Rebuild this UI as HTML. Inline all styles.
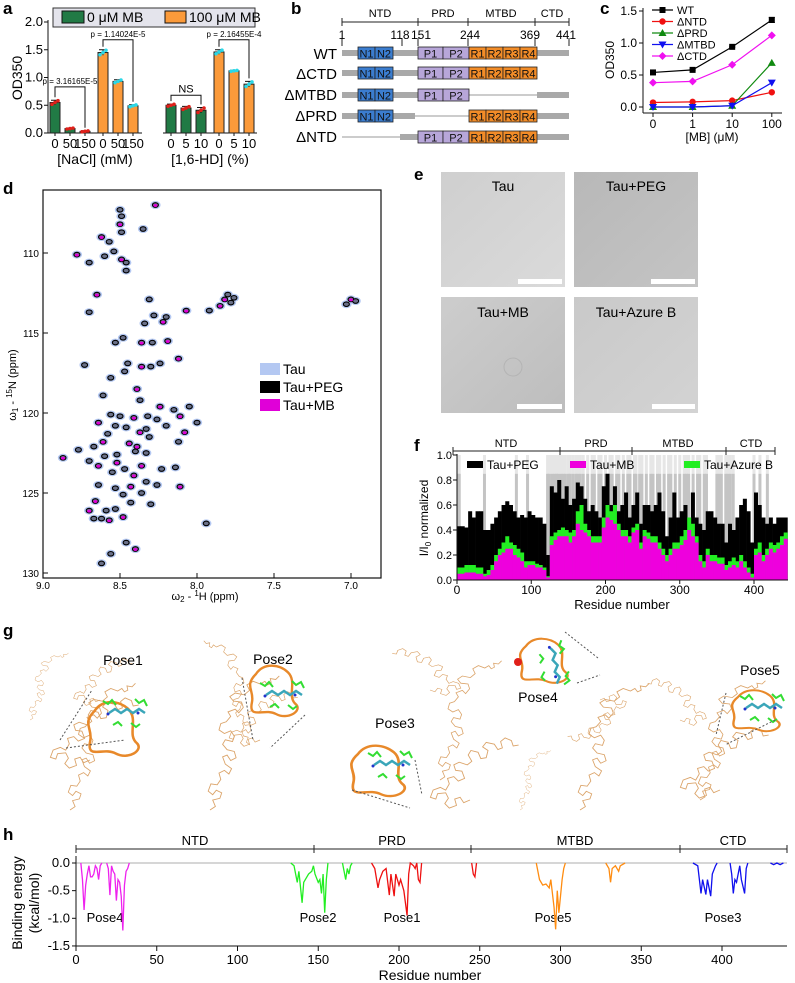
<!DOCTYPE html>
<html><head><meta charset="utf-8"><style>
html,body{margin:0;padding:0;background:#fff;}
svg{display:block;font-family:"Liberation Sans",Arial,sans-serif;}
</style></head><body>
<svg id="fig" width="795" height="983" viewBox="0 0 795 983" xmlns="http://www.w3.org/2000/svg">
<g font-weight="bold" font-size="17">
<text x="3" y="14">a</text>
<text x="291" y="14">b</text>
<text x="600" y="14">c</text>
<text x="3" y="194">d</text>
<text x="414" y="180">e</text>
<text x="414" y="451">f</text>
<text x="3" y="636">g</text>
<text x="3" y="840">h</text>
</g>

<g id="pa">
<rect x="53" y="8" width="202" height="19" fill="#e4e4ec" stroke="#333" stroke-width="1"/>
<rect x="62" y="11" width="22" height="12" fill="#217a45" stroke="#111"/>
<text x="87" y="22" font-size="14">0 μM MB</text>
<rect x="165" y="11" width="21" height="12" fill="#fb9a3a" stroke="#111"/>
<text x="189" y="22" font-size="14">100 μM MB</text>
<text transform="translate(22,78) rotate(-90)" text-anchor="middle" font-size="14">OD350</text>
<text x="95" y="164" text-anchor="middle" font-size="14">[NaCl] (mM)</text>
<text x="210" y="164" text-anchor="middle" font-size="14">[1,6-HD] (%)</text>
</g>

<g id="pb" font-size="11">
<g stroke="#222" stroke-width="1">
<line x1="342" y1="22" x2="569" y2="22"/>
<line x1="342" y1="18" x2="342" y2="26"/><line x1="418" y1="18" x2="418" y2="26"/><line x1="468" y1="18" x2="468" y2="26"/><line x1="535" y1="18" x2="535" y2="26"/><line x1="569" y1="18" x2="569" y2="26"/>
<line x1="342" y1="38" x2="342" y2="46"/><line x1="402" y1="38" x2="402" y2="46"/><line x1="418" y1="38" x2="418" y2="46"/><line x1="468" y1="38" x2="468" y2="46"/><line x1="535" y1="38" x2="535" y2="46"/><line x1="569" y1="38" x2="569" y2="46"/>
</g>
<text x="380" y="17" text-anchor="middle">NTD</text>
<text x="443" y="17" text-anchor="middle">PRD</text>
<text x="501" y="17" text-anchor="middle">MTBD</text>
<text x="552" y="17" text-anchor="middle">CTD</text>
<g font-size="12" text-anchor="middle">
<text x="342" y="39">1</text><text x="400" y="39">118</text><text x="421" y="39">151</text><text x="470" y="39">244</text><text x="530" y="39">369</text><text x="566" y="39">441</text>
</g>
<g font-size="15" text-anchor="end">
<text x="337" y="59">WT</text>
<text x="337" y="79">ΔCTD</text>
<text x="337" y="100">ΔMTBD</text>
<text x="337" y="121">ΔPRD</text>
<text x="337" y="142">ΔNTD</text>
</g>
<g id="bRows"></g>
</g>

<g id="pc">
<text transform="translate(614,60) rotate(-90)" text-anchor="middle" font-size="12">OD350</text>
<text x="712" y="141" text-anchor="middle" font-size="12">[MB] (μM)</text>
</g>

<g id="pd">
<rect x="43" y="190" width="338" height="388" fill="#fff" stroke="#111" stroke-width="1.2"/>
<text transform="translate(16,385) rotate(-90)" text-anchor="middle" font-size="11">ω<tspan font-size="8" dy="2">1</tspan><tspan dy="-2"> - </tspan><tspan font-size="8" dy="-4">15</tspan><tspan dy="4">N (ppm)</tspan></text>
<text x="205" y="600" text-anchor="middle" font-size="11">ω<tspan font-size="8" dy="2">2</tspan><tspan dy="-2"> - </tspan><tspan font-size="8" dy="-4">1</tspan><tspan dy="4">H (ppm)</tspan></text>
<rect x="260" y="363" width="20" height="12" fill="#b4c8f2"/>
<text x="283" y="374" font-size="14">Tau</text>
<rect x="260" y="381" width="20" height="12" fill="#000"/>
<text x="283" y="392" font-size="14">Tau+PEG</text>
<rect x="260" y="399" width="20" height="12" fill="#e000d8"/>
<text x="283" y="410" font-size="14">Tau+MB</text>
</g>

<defs>
<linearGradient id="g1" x1="0" y1="0" x2="1" y2="1"><stop offset="0" stop-color="#cfcfcf"/><stop offset="1" stop-color="#dadada"/></linearGradient>
<linearGradient id="g2" x1="0" y1="0" x2="1" y2="1"><stop offset="0" stop-color="#b8b8b8"/><stop offset="1" stop-color="#c4c4c4"/></linearGradient>
<linearGradient id="g3" x1="0" y1="0" x2="1" y2="1"><stop offset="0" stop-color="#cdcdcd"/><stop offset="1" stop-color="#bdbdbd"/></linearGradient>
<linearGradient id="g4" x1="0" y1="0" x2="1" y2="1"><stop offset="0" stop-color="#c9c9c9"/><stop offset="1" stop-color="#d3d3d3"/></linearGradient>
</defs>
<g id="pe">
<rect x="441" y="172" width="124" height="115" fill="url(#g1)"/>
<rect x="574" y="172" width="124" height="115" fill="url(#g2)"/>
<rect x="441" y="297" width="124" height="116" fill="url(#g3)"/>
<rect x="574" y="297" width="124" height="116" fill="url(#g4)"/>
<g fill="#fff">
<rect x="518" y="279" width="44" height="5"/>
<rect x="651" y="279" width="44" height="5"/>
<rect x="517" y="404" width="45" height="5"/>
<rect x="652" y="404" width="43" height="5"/>
</g>
<circle cx="513" cy="367" r="9" fill="none" stroke="#b4b4b4" stroke-width="1"/>
<g font-size="14" text-anchor="middle">
<text x="503" y="191">Tau</text>
<text x="636" y="191">Tau+PEG</text>
<text x="503" y="317">Tau+MB</text>
<text x="636" y="317">Tau+Azure B</text>
</g>
</g>

<g id="pf">
<g stroke="#222"><line x1="453" y1="451" x2="775" y2="451"/>
<line x1="453" y1="447" x2="453" y2="455"/><line x1="560" y1="447" x2="560" y2="455"/><line x1="632" y1="447" x2="632" y2="455"/><line x1="726" y1="447" x2="726" y2="455"/><line x1="775" y1="447" x2="775" y2="455"/></g>
<g font-size="11" text-anchor="middle">
<text x="506" y="447">NTD</text><text x="596" y="447">PRD</text><text x="678" y="447">MTBD</text><text x="751" y="447">CTD</text></g>
<text transform="translate(428,518) rotate(-90)" text-anchor="middle" font-size="12">I/I<tspan font-size="8" dy="3">0</tspan><tspan dy="-3"> normalized</tspan></text>
<text x="622" y="609" text-anchor="middle" font-size="13">Residue number</text>
</g>

<g id="pg">
<defs>
<path id="coilA" fill="none" stroke="#dba46a" stroke-width="1" d="M0,0 l6,-4 l-3,-7 l8,-2 l2,-6 l-6,-3 l-4,5 l-5,-4 l3,-8 l7,1 l4,-6 l-2,-7 l6,-3 l5,4 l3,-6 l-7,-5 l-3,-8 l5,-2 l4,6 l6,-3 l-2,-7 l-8,-2 l-5,-6 l3,-5 l8,2 l2,-6 l-4,-6 l-7,3 l-6,-4 l2,-7 l6,-2 l5,-6 l-3,-5 l8,-3 l4,4 l5,-6 l-2,-6 l-9,-1 l-4,-5 l6,-4 l10,2 l6,-5 l-3,-6 l7,-4 l8,3 l5,-3 l3,4 l4,-2 l-1,-5 l6,1 l4,-4"/>
<path id="coilB" fill="none" stroke="#dba46a" stroke-width="1" d="M0,0 l-7,3 l-4,-6 l-6,2 l2,7 l-8,3 l-5,-5 l4,-6 l-3,-6 l-9,1 l-2,6 l-6,-2 l3,-8 l8,-3 l6,3 l4,-7 l-2,-6 l7,-2 l5,5 l7,-3 l-3,-8 l-7,-1 l-2,-6 l6,-3 l9,3 l5,-4 l-4,-7 l3,-5 l8,2 l3,7 l6,-1 l2,-8 l-6,-4 l4,-5 l9,2 l4,6 l5,-2 l-2,-7 l5,-4 l7,3 l2,6 l6,-1"/>
<path id="ribbon" fill="none" stroke="#e8892a" stroke-width="3" stroke-linecap="round" d="M-30,-20 c10,-15 30,-12 40,-2 c12,12 -2,30 10,40 c8,8 -10,20 -25,12 c-15,-8 -35,8 -30,-15 c3,-15 -10,-20 5,-35"/>
<g id="ligand"><path d="M-14,0 l6,-4 l6,4 l6,-4 l6,4 l6,-4 l6,4" fill="none" stroke="#3aa6b9" stroke-width="2.5"/><path d="M-20,-12 l5,3 l4,-4 l4,5 M12,-14 l4,4 l5,-3 l3,6 M-10,12 l5,-3 l4,4 M8,10 l5,4 l4,-3" fill="none" stroke="#33dd33" stroke-width="2"/><circle cx="-15" cy="1" r="1.5" fill="#2233cc"/><circle cx="15" cy="0" r="1.5" fill="#2233cc"/></g>
</defs>
<use href="#coilA" transform="translate(70,810) scale(0.85)"/>
<use href="#coilB" transform="translate(90,760) scale(0.9)"/>
<use href="#coilA" transform="translate(30,720) scale(0.5,0.45)"/>
<use href="#coilB" transform="translate(100,700) scale(0.6)"/>
<use href="#ribbon" transform="translate(120,728) scale(0.85)"/>
<use href="#ligand" transform="translate(123,713)"/>
<line x1="60" y1="740" x2="92" y2="690" stroke="#555" stroke-dasharray="2,2"/><line x1="66" y1="748" x2="125" y2="740" stroke="#555" stroke-dasharray="2,2"/>
<text x="123" y="665" text-anchor="middle" font-size="14">Pose1</text>

<use href="#coilA" transform="translate(210,810) scale(0.9)"/>
<use href="#coilB" transform="translate(260,740) scale(0.7)"/>
<use href="#coilA" transform="translate(250,745) scale(-0.6,0.7)"/>
<use href="#ribbon" transform="translate(280,690) scale(0.8)"/>
<use href="#ligand" transform="translate(280,695)"/>
<line x1="242" y1="678" x2="253" y2="740" stroke="#555" stroke-dasharray="2,2"/><line x1="305" y1="715" x2="270" y2="748" stroke="#555" stroke-dasharray="2,2"/>
<text x="273" y="664" text-anchor="middle" font-size="14">Pose2</text>

<use href="#coilB" transform="translate(470,800) scale(0.9)"/>
<use href="#coilA" transform="translate(440,780) scale(0.8)"/>
<use href="#coilB" transform="translate(430,690) scale(-0.7,0.6)"/>
<use href="#ribbon" transform="translate(385,770) scale(0.9,0.8)"/>
<use href="#ligand" transform="translate(388,765)"/>
<line x1="352" y1="790" x2="410" y2="808" stroke="#555" stroke-dasharray="2,2"/><line x1="415" y1="760" x2="422" y2="795" stroke="#555" stroke-dasharray="2,2"/>
<text x="395" y="728" text-anchor="middle" font-size="14">Pose3</text>

<use href="#coilA" transform="translate(580,810) scale(0.9,0.85)"/>
<use href="#coilB" transform="translate(600,700) scale(-0.6)"/>
<use href="#coilA" transform="translate(520,810) scale(0.4)"/>
<use href="#ribbon" transform="translate(550,660) scale(0.8,0.7)"/>
<use href="#ligand" transform="translate(553,662) rotate(80)"/>
<circle cx="518" cy="662" r="4" fill="#e0201a"/>
<line x1="565" y1="632" x2="598" y2="658" stroke="#555" stroke-dasharray="2,2"/><line x1="577" y1="683" x2="600" y2="675" stroke="#555" stroke-dasharray="2,2"/>
<text x="538" y="702" text-anchor="middle" font-size="14">Pose4</text>

<use href="#coilB" transform="translate(720,790) scale(0.9)"/>
<use href="#coilA" transform="translate(700,800) scale(0.85,0.8)"/>
<use href="#coilB" transform="translate(680,720) scale(-0.6,0.6)"/>
<use href="#ribbon" transform="translate(762,710) scale(0.8,0.65)"/>
<use href="#ligand" transform="translate(760,708)"/>
<line x1="726" y1="693" x2="716" y2="735" stroke="#555" stroke-dasharray="2,2"/><line x1="775" y1="720" x2="725" y2="745" stroke="#555" stroke-dasharray="2,2"/>
<text x="760" y="675" text-anchor="middle" font-size="14">Pose5</text>
</g>

<g id="ph">
<g stroke="#222"><line x1="76" y1="849" x2="787" y2="849"/>
<line x1="76" y1="845" x2="76" y2="853"/><line x1="314" y1="845" x2="314" y2="853"/><line x1="471" y1="845" x2="471" y2="853"/><line x1="680" y1="845" x2="680" y2="853"/><line x1="787" y1="845" x2="787" y2="853"/></g>
<g font-size="13" text-anchor="middle">
<text x="195" y="845">NTD</text><text x="392" y="845">PRD</text><text x="575" y="845">MTBD</text><text x="733" y="845">CTD</text></g>
<text transform="translate(22,903) rotate(-90)" text-anchor="middle" font-size="14">Binding energy</text>
<text transform="translate(39,903) rotate(-90)" text-anchor="middle" font-size="14">(kcal/mol)</text>
<text x="430" y="980" text-anchor="middle" font-size="14">Residue number</text>
<g font-size="13" text-anchor="middle">
<text x="105" y="922">Pose4</text>
<text x="318" y="922">Pose2</text>
<text x="402" y="922">Pose1</text>
<text x="553" y="922">Pose5</text>
<text x="723" y="922">Pose3</text>
</g>
</g>
</svg>
<script>
const aCategoriesNaCl=['0','50','150'];
const aCategoriesHD=['0','5','10'];
const aNaClGreen=[0.55,0.08,0.03];
const aNaClGreenErr=[0.04,0.01,0.01];
const aNaClOrange=[1.45,0.93,0.49];
const aNaClOrangeErr=[0.05,0.03,0.02];
const aHDGreen=[0.50,0.45,0.41];
const aHDGreenErr=[0.02,0.03,0.05];
const aHDOrange=[1.46,1.12,0.88];
const aHDOrangeErr=[0.04,0.01,0.05];
const aYTicks=[0,0.5,1.0,1.5,2.0];
const aPLabels=['p = 3.16165E-5','p = 1.14024E-5','NS','p = 2.16455E-4'];
const aPLevels=[0.83,1.68,0.68,1.68];
const cCategories=['0','1','10','100'];
const cWT=[0.54,0.58,0.94,1.36];
const cNTD=[0.07,0.08,0.10,0.23];
const cPRD=[0.0,0.0,0.02,0.69];
const cMTBD=[0.0,0.0,0.02,0.38];
const cCTD=[0.38,0.40,0.66,1.12];
const cWTErr=[0.01,0.01,0.01,0.04];
const cYTicks=[0,0.5,1.0,1.5];
const dPeakH=[8.27,8.50,8.49,8.50,8.49,8.35,8.62,8.57,8.54,8.78,8.70,8.60,8.49,8.46,8.46,8.65,8.70,8.31,8.07,8.28,8.34,8.22,8.20,8.53,8.36,8.29,8.48,8.19,8.73,8.45,8.36,8.30,8.24,8.12,8.47,8.56,8.39,8.61,8.37,8.24,8.15,8.05,8.11,8.56,8.50,8.41,8.32,8.26,8.64,8.53,8.46,8.37,8.31,8.20,8.08,8.00,8.12,8.61,8.67,8.77,8.87,8.60,8.52,8.39,8.33,8.70,8.64,8.55,8.47,8.36,8.23,8.14,8.41,8.64,8.53,8.43,8.33,8.26,8.11,8.48,8.36,8.66,8.43,8.30,8.70,8.59,8.53,8.48,8.67,8.62,8.57,7.94,8.46,8.40,8.56,8.62,7.82,7.80,7.78,7.85,7.76,7.92,7.00,6.97,7.03,8.44,8.58,8.40,8.52,8.33];
const dPeakN=[107.0,107.3,107.7,108.2,108.7,108.5,109.0,109.3,109.9,110.1,110.6,110.2,110.4,110.6,111.1,112.6,113.7,112.9,113.6,113.9,114.4,114.3,114.0,115.6,115.6,115.6,115.3,115.5,117.0,116.9,117.1,117.1,116.9,116.6,117.4,117.8,118.5,118.9,119.2,119.6,119.8,119.6,120.2,120.1,120.2,120.3,120.2,120.4,120.6,120.8,120.9,121.2,121.5,120.8,121.2,120.6,121.8,121.8,122.1,122.3,122.8,122.7,122.6,122.1,122.5,123.0,123.3,123.7,123.5,123.3,123.5,123.4,123.9,124.5,124.7,124.6,124.3,124.5,124.6,125.1,125.0,125.5,125.6,125.7,126.1,126.1,126.0,126.5,126.6,126.6,126.7,126.9,128.1,128.5,128.8,129.4,112.9,112.6,113.1,113.3,112.8,113.6,112.9,113.0,113.2,121.9,121.3,122.4,123.1,121.0];
const dXTicks=[9.0,8.5,8.0,7.5,7.0];
const dYTicks=[110,115,120,125,130];
const fBinStart=0, fBinSize=5;
const fPEG=[0.43,0.43,0.42,0.55,0.5,0.55,0.55,0.4,0.4,0.45,0.5,0.55,0.6,0.63,0.6,0.55,0.5,0.52,0.5,0.55,0.52,0.5,0.5,0.45,0.2,0.75,0.7,0.8,0.65,0.75,0.6,0.65,0.78,0.75,0.65,0.55,0.6,0.55,0.5,0.75,0.85,0.6,0.75,0.55,0.6,0.7,0.5,0.6,0.7,0.45,0.6,0.6,0.55,0.6,0.7,0.55,0.35,0.5,0.7,0.5,0.55,0.6,0.5,0.7,0.5,0.45,0.4,0.55,0.55,0.5,0.45,0.45,0.3,0.45,0.4,0.5,0.6,0.65,0.55,0.3,0.7,0.6,0.5,0.45,0.5,0.45,0.5,0.5,0.5];
const fAzure=[0.1,0.1,0.12,0.12,0.12,0.1,0.1,0.05,0.08,0.12,0.2,0.25,0.3,0.35,0.3,0.28,0.25,0.22,0.15,0.15,0.15,0.13,0.12,0.1,0.03,0.35,0.38,0.4,0.42,0.4,0.38,0.4,0.55,0.6,0.45,0.4,0.35,0.35,0.35,0.5,0.6,0.55,0.6,0.45,0.4,0.4,0.35,0.42,0.45,0.3,0.4,0.38,0.35,0.35,0.3,0.25,0.2,0.25,0.3,0.3,0.35,0.4,0.5,0.45,0.35,0.2,0.15,0.25,0.2,0.2,0.18,0.18,0.12,0.15,0.18,0.15,0.2,0.15,0.1,0.05,0.25,0.3,0.2,0.25,0.3,0.28,0.3,0.35,0.38];
const fMB=[0.05,0.05,0.06,0.06,0.06,0.05,0.05,0.03,0.04,0.08,0.15,0.2,0.22,0.25,0.25,0.2,0.18,0.15,0.1,0.12,0.12,0.1,0.1,0.08,0.02,0.28,0.32,0.35,0.35,0.35,0.3,0.35,0.45,0.4,0.38,0.35,0.3,0.3,0.3,0.42,0.5,0.48,0.45,0.4,0.35,0.35,0.3,0.38,0.4,0.25,0.35,0.33,0.3,0.3,0.25,0.2,0.15,0.2,0.25,0.25,0.28,0.32,0.4,0.35,0.3,0.15,0.1,0.2,0.15,0.15,0.13,0.13,0.08,0.1,0.12,0.1,0.15,0.1,0.06,0.02,0.2,0.22,0.15,0.2,0.25,0.22,0.25,0.28,0.33];
const fMissing=[2,3,37,80,95,122,124,128,131,134,136,140,143,146,150,152,156,160,163,166,170,176,182,185,191,194,200,206,209,215,218,224,230,233,239,241,246,249,255,261,264,270,273,279,285,288,294,300,306,309,312,318,324,327,333,336,350,353,356,362,365,368,372,400,408,418];
const fYTicks=[0,0.2,0.4,0.6,0.8,1.0];
const fXTicks=[0,100,200,300,400];
const hPose4Res=[3,4,5,6,7,8,9,10,11,12,13,14,15,16,null,19,20,21,22,23,24,25,26,27,28,29,30,31,32,33];
const hPose4E=[0,-0.3,-0.85,-0.4,-0.2,-0.05,-0.25,-0.25,-0.2,-0.05,-0.1,-0.3,-0.05,0,null,0,-0.1,-0.58,-0.05,-0.15,-0.2,-0.68,-0.3,-0.35,-0.6,-1.22,-0.4,-0.15,-0.1,0];
const hPose2Res=[133,135,137,138,140,141,142,144,146,147,148,150,151,152,153,154,155,156,null,165,166,167,168,169,170,171];
const hPose2E=[0,-0.05,-0.35,-0.15,-0.72,-0.35,-0.3,-0.2,-0.15,-0.05,-0.2,-0.35,-0.3,-0.55,-0.2,-0.9,-0.3,0,null,0,-0.15,-0.3,-0.1,-0.2,-0.05,0];
const hPose1Res=[183,185,187,188,190,192,194,195,197,198,200,201,203,205,206,207,209,210,211,212,213,214,null,245,246,247,248];
const hPose1E=[0,-0.1,-0.45,-0.3,-0.15,-0.1,-0.58,-0.2,-0.6,-0.2,-0.4,-0.3,-0.5,-0.95,-0.2,0,-0.05,-0.1,0,-0.3,-0.35,0,null,0,-0.2,-0.25,0];
const hPose5Res=[285,287,289,291,293,294,295,296,297,298,299,300,301,302,303,null,328,330,331,332,334,336,337,340];
const hPose5E=[0,-0.3,-0.4,-0.38,-0.45,-0.3,-0.55,-0.8,-1.2,-0.5,-0.9,-0.6,-0.3,-0.1,0,null,0,-0.1,-0.35,-0.1,-0.05,-0.15,-0.05,0];
const hPose3Res=[382,385,387,388,390,391,393,394,396,397,null,405,406,407,408,409,411,412,414,415,416,null,430,432,434,436,438];
const hPose3E=[0,-0.05,-0.55,-0.3,-0.57,-0.3,-0.6,-0.2,-0.05,0,null,0,-0.2,-0.55,-0.3,-0.35,-0.05,-0.3,-0.55,-0.1,0,null,0,-0.03,0,-0.03,0];
const hYTicks=[0,-0.5,-1.0,-1.5];
const hXTicks=[0,50,100,150,200,250,300,350,400];

const NS='http://www.w3.org/2000/svg';
const svg=document.getElementById('fig');
function mk(tag,attrs,parent){const e=document.createElementNS(NS,tag);for(const k in attrs)e.setAttribute(k,attrs[k]);(parent||svg).appendChild(e);return e;}
function txt(s,attrs,parent){const e=mk('text',attrs,parent);e.textContent=s;return e;}

(function(){
 const g=document.getElementById('pa');
 const y=v=>133-v*55.5;
 const bw=10, step=15;
 mk('line',{x1:48,y1:20,x2:48,y2:133,stroke:'#111'},g);
 mk('line',{x1:48,y1:133,x2:142,y2:133,stroke:'#111'},g);
 mk('line',{x1:163,y1:133,x2:257,y2:133,stroke:'#111'},g);
 aYTicks.forEach(v=>{mk('line',{x1:44,y1:y(v),x2:48,y2:y(v),stroke:'#111'},g);
  const t=txt(v.toFixed(1),{x:43,y:y(v)+4,'text-anchor':'end','font-size':13},g);
  
  });
 const groups=[[aNaClGreen,aNaClGreenErr,55,'#217a45','#e0201a',aCategoriesNaCl],[aNaClOrange,aNaClOrangeErr,103,'#fb9a3a','#2ad8e8',aCategoriesNaCl],[aHDGreen,aHDGreenErr,171,'#217a45','#e0201a',aCategoriesHD],[aHDOrange,aHDOrangeErr,219,'#fb9a3a','#2ad8e8',aCategoriesHD]];
 const centers=[],tops=[];
 groups.forEach(([vals,errs,x0,col,dot,cats])=>{
  vals.forEach((v,i)=>{const cx=x0+i*step;centers.push(cx);tops.push(v+errs[i]);
   const r=mk('rect',{x:cx-bw/2,y:y(v),width:bw,height:y(0)-y(v),fill:col,stroke:'#222','stroke-width':1},g);
   
   
   const e=mk('path',{d:`M${cx},${y(v+errs[i])}V${y(v-errs[i])}M${cx-4},${y(v+errs[i])}h8`,stroke:'#111',fill:'none'},g);
   
   
   [-3,0,3].forEach((o,k)=>{const d=mk('circle',{cx:cx+o,cy:y(v+(k-1)*errs[i]*0.8),r:1.8,fill:dot},g);
    
    });
   mk('line',{x1:cx,y1:133,x2:cx,y2:136,stroke:'#111'},g);
   const t=txt(cats[i],{x:cx,y:148,'text-anchor':'middle','font-size':13},g);
   
   
  });
 });
 [[0,2],[3,5],[6,8],[9,11]].forEach(([a,b],k)=>{
  const L=y(aPLevels[k]);
  const p=mk('path',{d:`M${centers[a]},${y(tops[a])-3}V${L}H${centers[b]}V${y(tops[b])-3}`,stroke:'#111',fill:'none'},g);
  
  
  const t=txt(aPLabels[k],{x:(centers[a]+centers[b])/2,y:L-3,'text-anchor':'middle','font-size':aPLabels[k]==='NS'?11:8},g);
  
  
 });
})();

(function(){
 const g=document.getElementById('bRows');
 const rowsY=[53,73,95,116,137];
 const grey=(x1,x2,yc)=>mk('rect',{x:x1,y:yc-3,width:x2-x1,height:6,fill:'#a9a9a9'},g);
 const thin=(x1,x2,yc)=>mk('line',{x1:x1,y1:yc,x2:x2,y2:yc,stroke:'#999'},g);
 const box=(x,w,yc,fill,label)=>{const r=mk('rect',{x:x,y:yc-6,width:w,height:12,fill:fill,stroke:'#222','stroke-width':0.8},g);
  
  
  txt(label,{x:x+w/2,y:yc+4.5,'text-anchor':'middle','font-size':11,fill:'#111'},g);};
 const N=yc=>{box(358,17,yc,'#3b7dcf','N1');box(375,18,yc,'#3b7dcf','N2');};
 const P=yc=>{box(418,25,yc,'#b7a6d9','P1');box(443,26,yc,'#b7a6d9','P2');};
 const R=yc=>{box(469,17,yc,'#f28c28','R1');box(486,17,yc,'#f28c28','R2');box(503,17,yc,'#f28c28','R3');box(520,17,yc,'#f28c28','R4');};
 let yc=rowsY[0]; grey(342,569,yc); N(yc);P(yc);R(yc);
 yc=rowsY[1]; grey(342,537,yc); N(yc);P(yc);R(yc);
 yc=rowsY[2]; grey(342,469,yc); thin(469,537,yc); grey(537,569,yc); N(yc);P(yc);
 yc=rowsY[3]; grey(342,415,yc); thin(415,469,yc); grey(469,569,yc); N(yc);R(yc);
 yc=rowsY[4]; thin(342,400,yc); grey(400,569,yc); P(yc);R(yc);
})();

(function(){
 const g=document.getElementById('pc');
 const y=v=>107-v*64;
 const x=i=>653+i*39.6;
 mk('line',{x1:643,y1:8,x2:643,y2:113,stroke:'#111'},g);
 mk('line',{x1:643,y1:113,x2:782,y2:113,stroke:'#111'},g);
 cYTicks.forEach(v=>{mk('line',{x1:639,y1:y(v),x2:643,y2:y(v),stroke:'#111'},g);
  const t=txt(v.toFixed(1),{x:637,y:y(v)+4,'text-anchor':'end','font-size':12},g);
  
  });
 cCategories.forEach((c,i)=>{mk('line',{x1:x(i),y1:113,x2:x(i),y2:117,stroke:'#111'},g);
  const t=txt(c,{x:x(i),y:128,'text-anchor':'middle','font-size':12},g);
  
  });
 cWT.forEach((v,i)=>{mk('path',{d:`M${x(i)},${y(v+cWTErr[i])}V${y(v-cWTErr[i])}M${x(i)-3},${y(v+cWTErr[i])}h6M${x(i)-3},${y(v-cWTErr[i])}h6`,stroke:'#111',fill:'none'},g);});
 const series=[['WT',cWT,'#000','sq'],['ΔNTD',cNTD,'#f01010','ci'],['ΔPRD',cPRD,'#108a10','tu'],['ΔMTBD',cMTBD,'#1010f0','td'],['ΔCTD',cCTD,'#f010f0','di']];
 const marker=(px,py,shape,col)=>{let e;
  if(shape==='sq')e=mk('rect',{x:px-3,y:py-3,width:6,height:6,fill:col},g);
  else if(shape==='ci')e=mk('circle',{cx:px,cy:py,r:3.2,fill:col},g);
  else if(shape==='tu')e=mk('path',{d:`M${px},${py-4}L${px+4},${py+3}L${px-4},${py+3}Z`,fill:col},g);
  else if(shape==='td')e=mk('path',{d:`M${px},${py+4}L${px+4},${py-3}L${px-4},${py-3}Z`,fill:col},g);
  else e=mk('path',{d:`M${px},${py-4}L${px+4},${py}L${px},${py+4}L${px-4},${py}Z`,fill:col},g);
  return e;};
 series.forEach(([name,vals,col,shape],k)=>{
  const l=mk('polyline',{points:vals.map((v,i)=>x(i)+','+y(v)).join(' '),fill:'none',stroke:col,'stroke-width':1.2},g);
  
  
  vals.forEach((v,i)=>{const m=marker(x(i),y(v),shape,col);
   
   });
  const ly=10+k*11.5;
  mk('line',{x1:652,y1:ly,x2:673,y2:ly,stroke:col,'stroke-width':1.2},g);
  marker(662.5,ly,shape,col);
  const t=txt(name,{x:677,y:ly+4,'font-size':11},g);
  
  
 });
})();

(function(){
 const g=document.getElementById('pd');
 const x=h=>43+(9.0-h)*154;
 const y=n=>253+(n-110)*16;
 dXTicks.forEach(v=>{mk('line',{x1:x(v),y1:578,x2:x(v),y2:573,stroke:'#111'},g);
  const t=txt(v.toFixed(1),{x:x(v),y:589,'text-anchor':'middle','font-size':10},g);
  
  });
 dYTicks.forEach(v=>{mk('line',{x1:43,y1:y(v),x2:48,y2:y(v),stroke:'#111'},g);
  const t=txt(String(v),{x:39,y:y(v)+4,'text-anchor':'end','font-size':10},g);
  
  });
 const lay1=mk('g',{},g),lay2=mk('g',{},g),lay3=mk('g',{},g);
 dPeakH.forEach((h,i)=>{
  const px=x(h),py=y(dPeakN[i]);
  mk('ellipse',{cx:px,cy:py,rx:5.2,ry:4,fill:'#b4c8f2'},lay1);
  const e=mk('ellipse',{cx:px,cy:py,rx:3,ry:2.3,fill:'#6a7088',stroke:'#000','stroke-width':1.1},lay2);
  
  
  if(i%3===0){mk('ellipse',{cx:px,cy:py+0.5,rx:2,ry:1.5,fill:'#e000d8'},lay3);}
 });
})();

(function(){
 const g=document.getElementById('pf');
 const x=r=>457+r*0.7425;
 const y=v=>580-v*125;
 fMissing.forEach(r=>{
  mk('rect',{x:x(r)-1.5,y:y(1.0),width:3,height:y(0.85)-y(1.0),fill:'#e6e6e6'},g);
  const b=mk('rect',{x:x(r)-1.5,y:y(0.85),width:3,height:y(0)-y(0.85),fill:'#c4c4c4'},g);
  
  
 });
 const bw=fBinSize*0.7425;
 [[fPEG,'#000','bar-peg'],[fAzure,'#22ee22','bar-azureb'],[fMB,'#ee00dd','bar-mb']].forEach(([vals,col,name])=>{
  vals.forEach((v,i)=>{const r0=fBinStart+i*fBinSize;
   const b=mk('rect',{x:x(r0),y:y(v),width:bw+0.3,height:y(0)-y(v),fill:col},g);
   
   });
 });
 mk('line',{x1:457,y1:454,x2:457,y2:580,stroke:'#111'},g);
 mk('line',{x1:457,y1:580,x2:788,y2:580,stroke:'#111'},g);
 fYTicks.forEach(v=>{mk('line',{x1:453,y1:y(v),x2:457,y2:y(v),stroke:'#111'},g);
  const t=txt(v.toFixed(1),{x:452,y:y(v)+4,'text-anchor':'end','font-size':11},g);
  
  });
 fXTicks.forEach(v=>{mk('line',{x1:x(v),y1:580,x2:x(v),y2:584,stroke:'#111'},g);
  const t=txt(String(v),{x:x(v),y:594,'text-anchor':'middle','font-size':12},g);
  
  });
 [['Tau+PEG','#000',467],['Tau+MB','#ee00dd',570],['Tau+Azure B','#22ee22',684]].forEach(([n,c,lx])=>{
  mk('rect',{x:lx,y:461,width:16,height:7,fill:c},g);
  const t=txt(n,{x:lx+20,y:469,'font-size':12},g);
  
  });
})();

(function(){
 const g=document.getElementById('ph');
 const x=r=>76+r*1.615;
 const y=v=>863-v*55.3;
 mk('line',{x1:76,y1:863,x2:787,y2:863,stroke:'#bdbdbd','stroke-width':1.2},g);
 mk('line',{x1:76,y1:856,x2:76,y2:946,stroke:'#111'},g);
 mk('line',{x1:76,y1:946,x2:787,y2:946,stroke:'#111'},g);
 hYTicks.forEach(v=>{mk('line',{x1:72,y1:y(v),x2:76,y2:y(v),stroke:'#111'},g);
  const t=txt(v.toFixed(1),{x:70,y:y(v)+4,'text-anchor':'end','font-size':13},g);
  
  });
 hXTicks.forEach(v=>{mk('line',{x1:x(v),y1:946,x2:x(v),y2:951,stroke:'#111'},g);
  const t=txt(String(v),{x:x(v),y:964,'text-anchor':'middle','font-size':13},g);
  
  });
 [[hPose4Res,hPose4E,'#ee22ee','pose4'],[hPose2Res,hPose2E,'#22ee22','pose2'],[hPose1Res,hPose1E,'#ee1111','pose1'],[hPose5Res,hPose5E,'#ff8c10','pose5'],[hPose3Res,hPose3E,'#1010ee','pose3']].forEach(([rs,es,col,name])=>{
  let pts=[];
  const flush=()=>{if(pts.length){const l=mk('polyline',{points:pts.join(' '),fill:'none',stroke:col,'stroke-width':1.3},g);
   
   }pts=[];};
  rs.forEach((r,i)=>{if(r===null){flush();}else pts.push(x(r)+','+y(es[i]));});
  flush();
 });
})();
</script>
</body></html>
